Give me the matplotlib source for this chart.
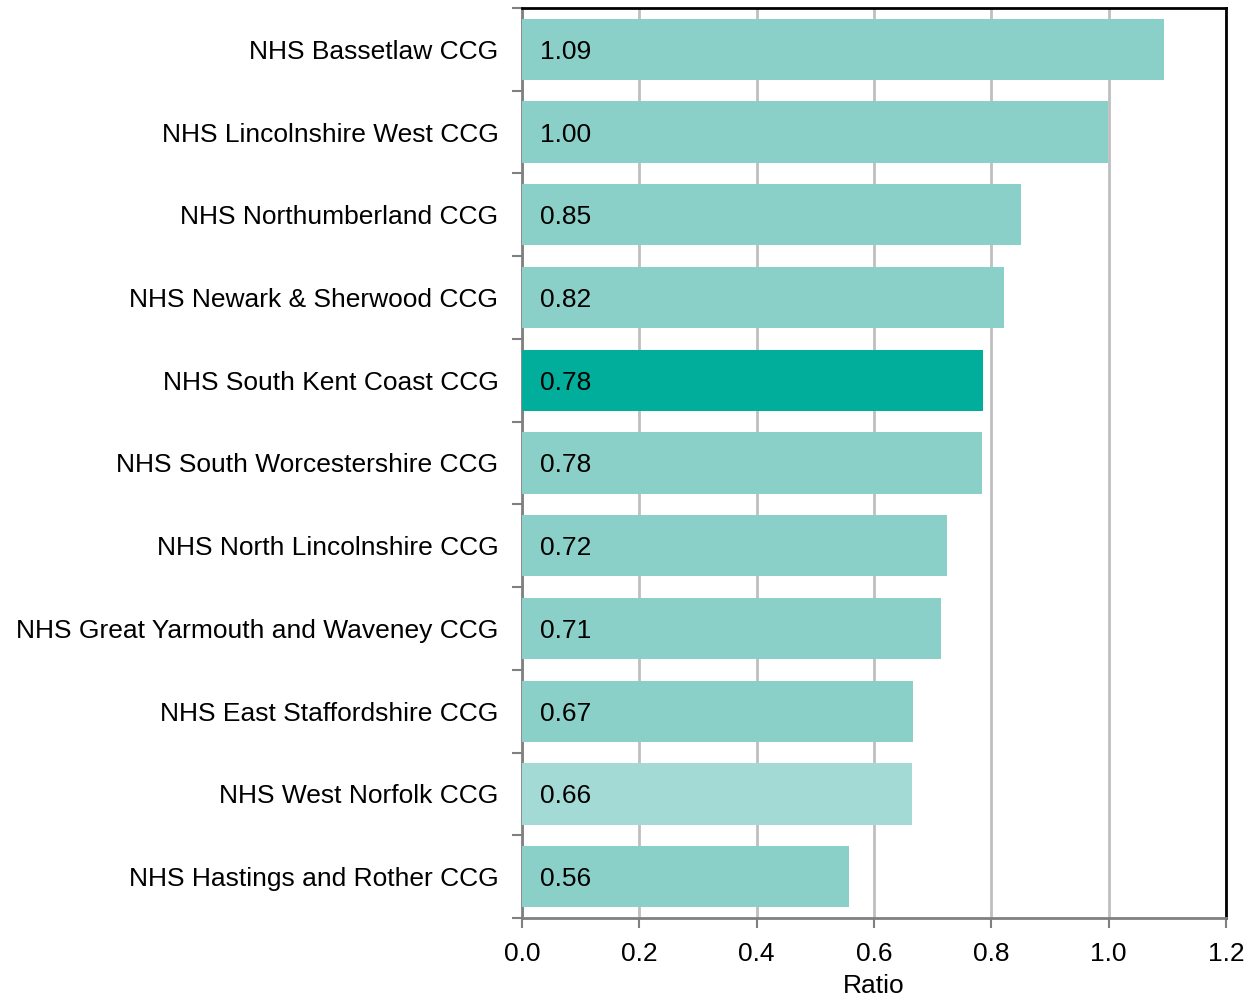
import numpy as np
import matplotlib.pyplot as plt

plt.rcParams['font.family'] = ['Liberation Sans', 'DejaVu Sans']

ccgs = ['NHS Bassetlaw CCG', 'NHS Lincolnshire West CCG', 'NHS Northumberland CCG',
        'NHS Newark & Sherwood CCG', 'NHS South Kent Coast CCG',
        'NHS South Worcestershire CCG', 'NHS North Lincolnshire CCG',
        'NHS Great Yarmouth and Waveney CCG', 'NHS East Staffordshire CCG',
        'NHS West Norfolk CCG', 'NHS Hastings and Rother CCG']
ratios = [1.094, 0.999, 0.850, 0.821, 0.786, 0.784, 0.724, 0.714, 0.666, 0.665, 0.557]
labels = ['1.09', '1.00', '0.85', '0.82', '0.78', '0.78', '0.72', '0.71', '0.67', '0.66', '0.56']
bar_colors = ['#8AD0C9'] * 11
bar_colors[4] = '#00AE9B'
bar_colors[9] = '#A3DAD5'
xticks = [0.0, 0.2, 0.4, 0.6, 0.8, 1.0, 1.2]

fig = plt.figure(figsize=(12.48, 10), dpi=100)
ax = fig.add_axes([522 / 1248, 82 / 1000, 704 / 1248, 910 / 1000])

y = np.arange(len(ccgs))
ax.barh(y, ratios, height=0.74, color=bar_colors, zorder=3)
for yi, lab in zip(y, labels):
    ax.text(0.03, yi, lab, va='center_baseline', ha='left', fontsize=19,
            color='black', zorder=4)

ax.set_xlim(0, 1.2)
ax.set_ylim(len(ccgs) - 0.5, -0.5)
ax.set_xticks(xticks)
ax.set_xticklabels(['%.1f' % t for t in xticks], fontsize=19)
ax.set_xlabel('Ratio', fontsize=19, labelpad=6)
ax.xaxis.grid(True, color='#BFBFBF', linewidth=2, zorder=0)

ax.set_yticks(np.arange(len(ccgs) + 1) - 0.5)
ax.set_yticklabels([])
ax.set_yticks(y, minor=True)
ax.set_yticklabels(ccgs, minor=True, fontsize=19)
ax.tick_params(axis='y', which='minor', length=0, pad=17)
ax.tick_params(axis='y', which='major', length=7, width=1.5, color='#808080')
ax.tick_params(axis='x', length=7, width=1.5, color='#808080', pad=10)

for side in ['left', 'bottom']:
    ax.spines[side].set_color('#808080')
    ax.spines[side].set_linewidth(2)
ax.spines['top'].set_color('black')
ax.spines['right'].set_color('black')
ax.spines['top'].set_linewidth(2)
ax.spines['right'].set_linewidth(2)

fig.savefig('out.png', dpi=100)
